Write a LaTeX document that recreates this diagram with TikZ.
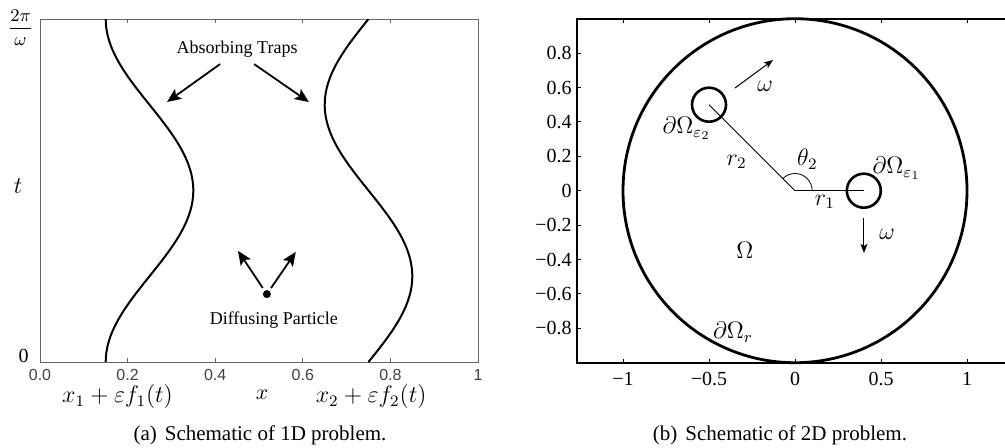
\documentclass[tikz,border=0pt]{standalone}
\usepackage{amsmath}
\usepackage[no-math]{fontspec}
\setmainfont{Liberation Serif}
\setsansfont{Liberation Sans}
\usetikzlibrary{arrows.meta,positioning}
\tikzset{
  trapline/.style={line width=1pt},
  bigarrow/.style={-{Stealth[length=7pt,width=6pt,inset=1.5pt]},line width=0.9pt},
  smallarrow/.style={-{Stealth[length=4.5pt,width=3.5pt,inset=1pt]},line width=0.5pt},
  sanstick/.style={font=\sffamily\fontsize{8}{9}\selectfont,text=black!75},
  seriftick/.style={font=\fontsize{10}{12}\selectfont},
  notelabel/.style={font=\fontsize{9}{11}\selectfont},
  mlabel/.style={font=\fontsize{12}{14}\selectfont},
  trap/.style={circle,draw,line width=1.3pt,minimum size=17pt,inner sep=0pt},
  caption/.style={font=\fontsize{10.5}{12}\selectfont},
}

\begin{document}
\begin{tikzpicture}[x=0.5pt,y=0.5pt]
\useasboundingbox (0,0) rectangle (1005,447);

% (a) 1D problem
\begin{scope}[shift={(40,85)},x=219pt,y=171.5pt]
  % frame and ticks
  \draw[black!60,line width=0.5pt] (0,0) rectangle (1,1);
  \foreach \tx in {0.2,0.4,0.6,0.8} {
    \draw[black!60] (\tx,0) -- (\tx,0.012);
    \draw[black!60] (\tx,1) -- (\tx,0.988);
  }
  \foreach \tx/\tl in {0/0.0,0.2/0.2,0.4/0.4,0.6/0.6,0.8/0.8,1/1}
    \node[sanstick] at (\tx,-0.038) {\tl};
  \node[seriftick,anchor=base east,inner sep=0pt] (tzero) at (-0.025,0) {0};
  \node[font=\fontsize{9}{11}\selectfont] (tperiod) at (-0.0445,0.975) {$\dfrac{2\pi}{\omega}$};
  % moving traps
  \draw[trapline] plot[domain=0:1,samples=80] ({0.25-0.1*cos(360*\x)},\x);
  \draw[trapline] plot[domain=0:1,samples=80] ({0.75+0.1*sin(360*\x)},\x);
  \node[notelabel] (traps) at (0.45,0.913) {Absorbing Traps};
  \coordinate (hitL) at (0.29,0.758);
  \coordinate (hitR) at (0.614,0.758);
  \draw[bigarrow] ([xshift=-8.5pt]traps.south) -- (hitL);
  \draw[bigarrow] ([xshift=8.5pt]traps.south) -- (hitR);
  % particle
  \node[circle,fill,inner sep=0pt,minimum size=4pt] (particle) at (0.518,0.198) {};
  \coordinate (jumpL) at (0.452,0.324);
  \coordinate (jumpR) at (0.584,0.321);
  \draw[bigarrow,shorten <=1.5pt] (particle) -- (jumpL);
  \draw[bigarrow,shorten <=1.5pt] (particle) -- (jumpR);
  \node[notelabel] (diffusing) at (0.534,0.122) {Diffusing Particle};
  % axis labels
  \node[mlabel] (tlab) at (-0.05,0.513) {$t$};
  \node[font=\fontsize{11}{13}\selectfont] (xlab) at (0.507,-0.096) {$x$};
  \node[mlabel] (xonelab) at (0.177,-0.102) {$x_1+\varepsilon f_1(t)$};
  \node[mlabel] (xtwolab) at (0.756,-0.102) {$x_2+\varepsilon f_2(t)$};
\end{scope}

% (b) 2D problem
\begin{scope}[shift={(795,256.3)},x=86pt,y=86pt]
  % frame and ticks
  \draw[line width=0.8pt] (1.3,1) -- (-1.267,1) -- (-1.267,-1) -- (1.3,-1);
  \foreach \tx/\tl in {-1/\textminus1,-0.5/\textminus0.5,0/0,0.5/0.5,1/1} {
    \draw[line width=0.5pt] (\tx,-1) -- (\tx,-0.977);
    \draw[line width=0.5pt] (\tx,1) -- (\tx,0.977);
    \node[seriftick] at (\tx,-1.095) {\tl};
  }
  \foreach \ty/\tl in {-0.8/\textminus0.8,-0.6/\textminus0.6,-0.4/\textminus0.4,-0.2/\textminus0.2,
                       0/0,0.2/0.2,0.4/0.4,0.6/0.6,0.8/0.8} {
    \draw[line width=0.5pt] (-1.267,\ty) -- (-1.244,\ty);
    \node[seriftick,left,inner sep=2.5pt] at (-1.267,\ty) {\tl};
  }
  % domain and traps
  \draw[line width=1.4pt] (0,0) circle (1);
  \coordinate (O) at (0,0);
  \node[trap] (eps1) at (0.4,0) {};
  \node[trap] (eps2) at (-0.5,0.5) {};
  \draw[line width=0.4pt] (O) -- (eps1.center);
  \draw[line width=0.4pt] (O) -- (eps2.center);
  \draw[line width=0.4pt] (0.1,0) arc[start angle=0,end angle=135,radius=0.1];
  % labels
  \node[mlabel] (thetalab) at (0.072,0.183) {$\theta_2$};
  \node[mlabel] (ronelab) at (0.174,-0.064) {$r_1$};
  \node[mlabel] (rtwolab) at (-0.339,0.169) {$r_2$};
  \node[mlabel] (epstwolab) at (-0.63,0.363) {$\partial\Omega_{\varepsilon_2}$};
  \node[mlabel] (epsonelab) at (0.591,0.13) {$\partial\Omega_{\varepsilon_1}$};
  \node[mlabel] (omegalab) at (-0.291,-0.345) {$\Omega$};
  \node[mlabel] (boundlab) at (-0.36,-0.821) {$\partial\Omega_r$};
  % rotation
  \coordinate (rotAs) at (-0.349,0.597);
  \coordinate (rotAe) at (-0.128,0.76);
  \coordinate (rotBs) at (0.401,-0.159);
  \coordinate (rotBe) at (0.401,-0.362);
  \draw[smallarrow] (rotAs) -- (rotAe);
  \draw[smallarrow] (rotBs) -- (rotBe);
  \node[mlabel] (omegaA) at (-0.174,0.605) {$\omega$};
  \node[mlabel] (omegaB) at (0.535,-0.252) {$\omega$};
\end{scope}

% captions
\node[caption] (capa) at (260,12) {(a)\hspace{4pt}Schematic of 1D problem.};
\node[caption] (capb) at (780,12) {(b)\hspace{4pt}Schematic of 2D problem.};
\end{tikzpicture}
\end{document}
